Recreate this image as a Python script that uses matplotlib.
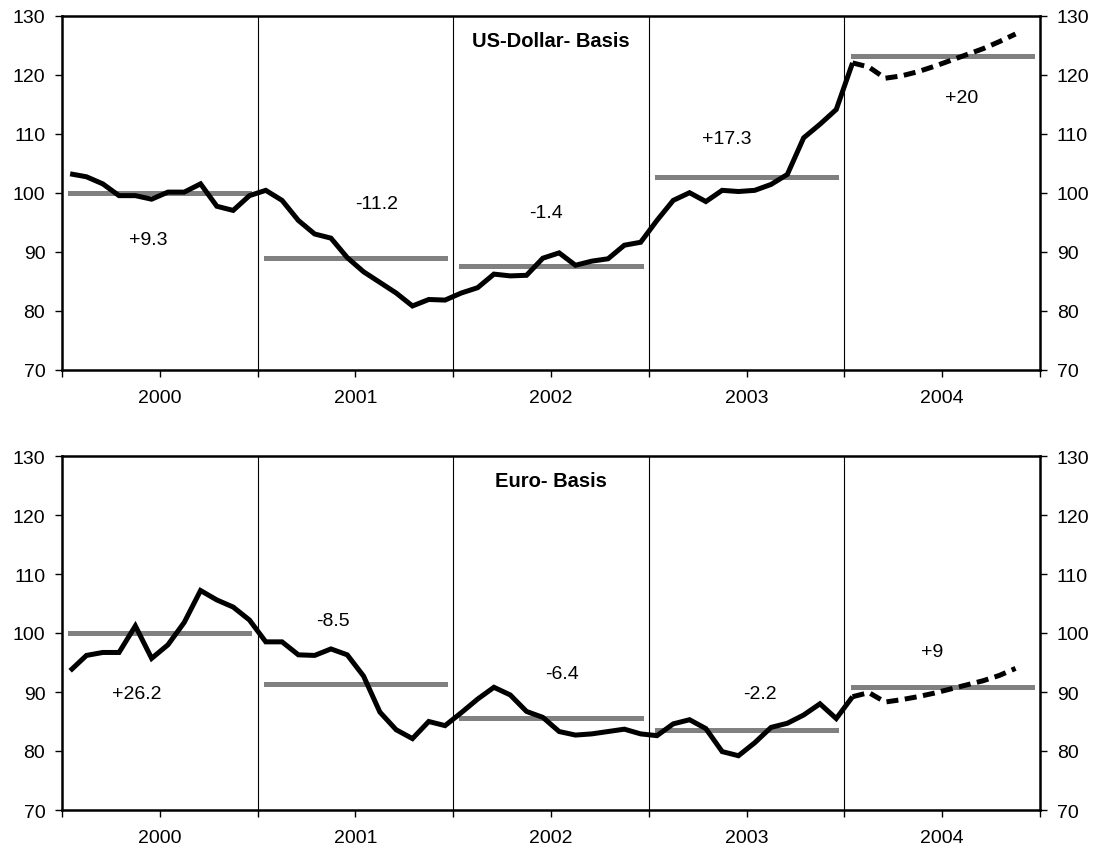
import matplotlib
matplotlib.use("Agg")
import matplotlib.pyplot as plt
import numpy as np

plt.rcParams['font.family'] = ['Liberation Sans', 'DejaVu Sans']

years = ['2000', '2001', '2002', '2003', '2004']

# Monthly index values (Jan 2000 .. Jan 2004 actual, rest forecast)
usd_actual = [103.2, 102.7, 101.5, 99.5, 99.5, 98.9, 100.1, 100.1, 101.5, 97.7, 97.0, 99.5,
              100.4, 98.7, 95.3, 93.0, 92.3, 89.0, 86.6, 84.8, 83.0, 80.8, 81.9, 81.8,
              83.0, 83.9, 86.2, 85.9, 86.0, 88.9, 89.8, 87.7, 88.4, 88.8, 91.1, 91.6,
              95.3, 98.7, 100.0, 98.5, 100.4, 100.2, 100.4, 101.4, 103.1, 109.3, 111.6, 114.1,
              122.0]
usd_forecast = [122.0, 121.3, 119.4, 119.8, 120.5, 121.4, 122.4, 123.4, 124.4, 125.6, 126.9]

eur_actual = [93.6, 96.2, 96.7, 96.7, 101.2, 95.7, 98.0, 101.8, 107.2, 105.6, 104.4, 102.2,
              98.5, 98.5, 96.3, 96.2, 97.3, 96.3, 92.7, 86.6, 83.6, 82.1, 85.0, 84.3,
              86.5, 88.8, 90.8, 89.5, 86.7, 85.7, 83.3, 82.7, 82.9, 83.3, 83.7, 82.9,
              82.6, 84.6, 85.3, 83.8, 79.9, 79.2, 81.4, 84.0, 84.7, 86.1, 88.0, 85.5,
              89.2]
eur_forecast = [89.2, 89.9, 88.3, 88.7, 89.2, 89.8, 90.5, 91.2, 91.9, 92.8, 94.0]

# Yearly averages
usd_avg = [100.0, 88.9, 87.6, 102.6, 123.2]
eur_avg = [100.0, 91.4, 85.6, 83.6, 90.9]

# Percent change annotations
usd_pct = ['+9.3', '-11.2', '-1.4', '+17.3', '+20']
eur_pct = ['+26.2', '-8.5', '-6.4', '-2.2', '+9']
usd_pct_pos = [(5.3, 92.1), (19.3, 98.2), (29.7, 96.7), (40.8, 109.2), (55.2, 116.2)]
eur_pct_pos = [(4.6, 89.7), (16.6, 102.1), (30.7, 93.1), (42.8, 89.7), (53.4, 96.8)]

titles = ['US-Dollar- Basis', 'Euro- Basis']

fig = plt.figure(figsize=(10.98, 8.54), dpi=100)
ax1 = fig.add_axes([62/1098, 1-370.7/854, (1040-62)/1098, (370.7-16.7)/854])
ax2 = fig.add_axes([62/1098, 1-811/854, (1040-62)/1098, (811-457)/854])

FS = 14
LW = 3.6
GRAY = '#808080'

def draw(ax, actual, forecast, avg, pct, pct_pos, title):
    ax.set_xlim(0, 60)
    ax.set_ylim(70, 130)
    for b in (12, 24, 36, 48):
        ax.axvline(b, color='black', lw=0.8, zorder=1)
    for i, a in enumerate(avg):
        xs = np.array([i*12 + 0.5, i*12 + 11.5])
        ax.plot(xs, [a, a], color=GRAY, lw=LW, solid_capstyle='projecting', zorder=2)
    xa = np.arange(len(actual)) + 0.5
    ax.plot(xa, actual, color='black', lw=LW, solid_joinstyle='miter',
            solid_capstyle='butt', zorder=3)
    xf = np.arange(len(forecast)) + len(actual) - 1 + 0.5
    ax.plot(xf, forecast, color='black', lw=LW, linestyle=(0, (2.4, 1.3)),
            dash_capstyle='butt', zorder=3)
    for t, (x, y) in zip(pct, pct_pos):
        ax.text(x, y, t, ha='center', va='center', fontsize=FS)
    ax.text(30.0, 125.8, title, ha='center', va='center', fontsize=FS + 0.5,
            fontweight='bold')
    ax.set_yticks(np.arange(70, 131, 10))
    ax.set_xticks(np.arange(0, 61, 6))
    labels = []
    for k in range(11):
        labels.append(years[k // 2] if k % 2 == 1 else '')
    ax.set_xticklabels(labels)
    ax.tick_params(axis='y', which='both', direction='out', length=5, width=1,
                   left=True, right=True, labelleft=True, labelright=True,
                   labelsize=FS, pad=7)
    ax.tick_params(axis='x', direction='out', length=5, width=1, labelsize=FS, pad=9)
    for s in ax.spines.values():
        s.set_linewidth(1.8)
        s.set_color('black')

draw(ax1, usd_actual, usd_forecast, usd_avg, usd_pct, usd_pct_pos, titles[0])
draw(ax2, eur_actual, eur_forecast, eur_avg, eur_pct, eur_pct_pos, titles[1])

fig.savefig('out.png', dpi=100)
